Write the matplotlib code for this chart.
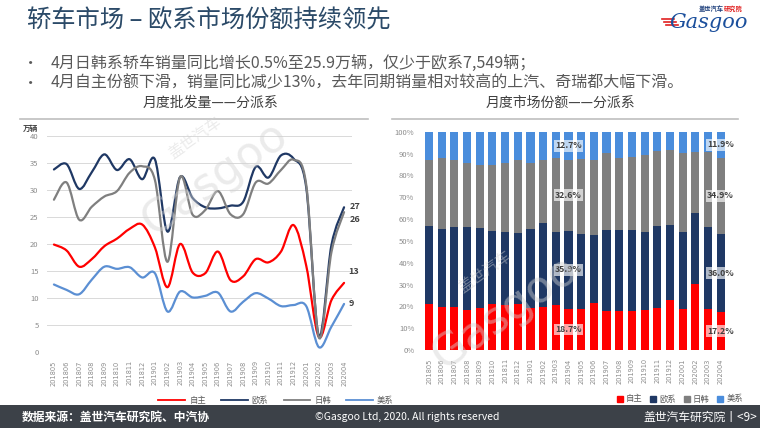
import matplotlib
matplotlib.use('Agg')
import matplotlib.pyplot as plt
from matplotlib.path import Path
from matplotlib.patches import PathPatch, Rectangle, Patch
from matplotlib.lines import Line2D
import numpy as np

plt.rcParams['font.family'] = ['Noto Sans CJK SC', 'DejaVu Sans']

# ---------------- data ----------------
months = ['201805', '201806', '201807', '201808', '201809', '201810', '201811', '201812',
          '201901', '201902', '201903', '201904', '201905', '201906', '201907', '201908',
          '201909', '201910', '201911', '201912', '202001', '202002', '202003', '202004']
series_names = ['自主', '欧系', '日韩', '美系']

# monthly wholesale volume, 10k units
vol_zizhu = [19.9, 18.8, 15.8, 17.2, 19.6, 21.0, 22.8, 23.6, 19.4, 12.0, 20.0, 14.7,
             14.6, 18.6, 13.3, 14.0, 17.2, 16.6, 18.6, 23.5, 16.0, 2.8, 9.6, 12.8]
vol_ouxi = [33.8, 34.8, 30.2, 33.3, 36.6, 33.7, 35.7, 32.0, 35.7, 22.3, 32.4, 28.5,
            26.8, 26.6, 27.1, 27.8, 34.3, 32.3, 36.4, 35.8, 30.5, 3.0, 19.8, 26.8]
vol_rihan = [28.2, 31.4, 24.5, 26.9, 28.8, 29.8, 33.2, 34.4, 31.9, 16.7, 32.4, 25.4,
             26.3, 29.8, 25.5, 25.5, 31.4, 31.2, 33.7, 35.6, 31.0, 2.7, 18.5, 25.9]
vol_meixi = [12.5, 11.5, 10.7, 13.4, 15.8, 15.4, 15.7, 13.8, 14.6, 7.5, 11.2, 10.1,
             10.4, 11.0, 7.5, 9.3, 10.9, 9.9, 8.5, 8.7, 8.5, 0.9, 4.7, 8.9]
end_labels = ['13', '27', '26', '9']

# monthly market share, %
sh_zizhu = [21.1, 19.5, 19.5, 18.3, 19.1, 21.1, 20.6, 20.9, 19.1, 19.5, 20.6, 18.7,
            18.8, 21.7, 17.9, 17.9, 17.9, 18.3, 19.1, 22.9, 18.8, 30.1, 18.8, 17.2]
sh_ouxi = [35.8, 35.9, 37.0, 37.9, 36.6, 33.6, 33.6, 32.5, 36.2, 38.8, 33.6, 35.9,
           34.3, 31.0, 37.1, 37.1, 37.1, 35.9, 37.7, 34.4, 35.4, 32.5, 37.4, 36.0]
sh_rihan = [30.1, 32.4, 30.5, 29.3, 29.0, 30.0, 31.3, 33.6, 30.2, 28.7, 33.6, 32.6,
            34.2, 34.3, 35.4, 32.8, 33.5, 35.1, 34.5, 34.3, 35.9, 27.9, 34.6, 34.9]
sh_meixi = [13.0, 12.2, 13.0, 14.5, 15.3, 15.3, 14.5, 13.0, 14.5, 13.0, 12.2, 12.7,
            12.7, 13.0, 9.6, 12.2, 11.5, 10.7, 8.7, 8.4, 9.9, 9.5, 9.2, 11.9]
labelled_months = ['201904', '202004']

line_colors = ['#FF0000', '#1F3864', '#7F7F7F', '#5B8FD3']
bar_colors = ['#FF0000', '#1F3864', '#7F7F7F', '#4A8DDC']
TXT = '#404040'
TICK = '#8C8C8C'


def smooth_line(ax, xs, ys, color, lw=1.6):
    """Excel-like smoothed line drawn as cubic bezier segments in data coords"""
    n = len(xs)
    verts = [(xs[0], ys[0])]
    codes = [Path.MOVETO]
    for i in range(n - 1):
        a = max(i - 1, 0)
        b = min(i + 2, n - 1)
        c1 = (xs[i] + (xs[i + 1] - xs[a]) / 6, ys[i] + (ys[i + 1] - ys[a]) / 6)
        c2 = (xs[i + 1] - (xs[b] - xs[i]) / 6, ys[i + 1] - (ys[b] - ys[i]) / 6)
        verts += [c1, c2, (xs[i + 1], ys[i + 1])]
        codes += [Path.CURVE4] * 3
    ax.add_patch(PathPatch(Path(verts, codes), facecolor='none', edgecolor=color,
                           lw=lw, capstyle='round', joinstyle='round', zorder=3))


W, H = 760, 428
fig = plt.figure(figsize=(7.6, 4.28), dpi=100)
fig.patch.set_facecolor('white')


def fx(px):
    return px / W


def fy(py):
    return 1 - py / H


# ---------------- header ----------------
fig.text(fx(27), fy(20), '轿车市场 – 欧系市场份额持续领先', fontsize=17.5, color='#2B4A68',
         va='center', ha='left')
bullets = ['4月日韩系轿车销量同比增长0.5%至25.9万辆，仅少于欧系7,549辆；',
           '4月自主份额下滑，销量同比减少13%，去年同期销量相对较高的上汽、奇瑞都大幅下滑。']
for k, b in enumerate(bullets):
    yy = fy(63 + 20 * k)
    fig.text(fx(31), yy, '•', fontsize=11, color='#595959', va='center', ha='center')
    fig.text(fx(51), yy, b, fontsize=11.5, color='#595959', va='center', ha='left')

# logo
fig.text(fx(748), fy(22), 'Gasgoo', fontsize=15, color='#1B4F9C', va='center', ha='right',
         family='DejaVu Serif', style='italic')
fig.text(fx(711), fy(9), '盖世汽车', fontsize=4.5, color='#1B3D7A', va='center', ha='center',
         weight='bold')
fig.text(fx(733), fy(9), '研究院', fontsize=4.5, color='#E02020', va='center', ha='center',
         weight='bold')
for k in range(3):
    fig.add_artist(Line2D([fx(662 + 2 * k), fx(674 + 2 * k)], [fy(19 + 3 * k), fy(19 + 3 * k)],
                          color='#E02020', lw=1.2))

# ---------------- left chart: volumes ----------------
fig.text(fx(210), fy(103), '月度批发量——分派系', fontsize=10, color=TXT, ha='center', va='center')
fig.add_artist(Line2D([fx(20), fx(368)], [fy(119), fy(119)], color='#BFBFBF', lw=1.2))

ax1 = fig.add_axes([fx(47), fy(352), fx(305), 216 / H])
x = np.arange(len(months))
vols = [vol_zizhu, vol_ouxi, vol_rihan, vol_meixi]
for vals, c in zip(vols, line_colors):
    smooth_line(ax1, x, vals, c)
ax1.set_xlim(-0.55, 23.63)
ax1.set_ylim(0, 40)
ax1.set_yticks(np.arange(0, 41, 5))
ax1.grid(axis='y', color='#D9D9D9', lw=0.7)
ax1.set_axisbelow(True)
for s in ax1.spines.values():
    s.set_visible(False)
ax1.tick_params(length=0, labelsize=5.5, labelcolor=TICK, pad=6)
ax1.set_xticks(x)
ax1.set_xticklabels(months, rotation=90, fontsize=4.8, family='DejaVu Sans')
ax1.text(-0.055, 1.035, '万辆', transform=ax1.transAxes, fontsize=5.5, color=TXT,
         weight='bold', ha='center', va='center')

# end value labels (offsets in points, like the dragged labels of the original)
end_offsets = [(3, 8), (4, 0.5), (4, -5), (3, 0.5)]
for vals, lab, (dx, dy) in zip(vols, end_labels, end_offsets):
    ax1.annotate(lab, xy=(x[-1], vals[-1]), xytext=(dx, dy), textcoords='offset points',
                 fontsize=6.5, color=TXT, weight='bold', ha='left', va='center')

leg1 = ax1.legend([Line2D([], [], color=c, lw=1.3) for c in line_colors], series_names,
                  loc='center', bbox_to_anchor=(fx(276), fy(400)), bbox_transform=fig.transFigure,
                  ncol=4, fontsize=6, frameon=False, handlelength=3.2, columnspacing=1.8,
                  handletextpad=0.5)
for t in leg1.get_texts():
    t.set_color('#595959')

# ---------------- right chart: shares ----------------
fig.text(fx(560), fy(103), '月度市场份额——分派系', fontsize=10, color=TXT, ha='center', va='center')
fig.add_artist(Line2D([fx(392), fx(738)], [fy(119), fy(119)], color='#BFBFBF', lw=1.2))

ax2 = fig.add_axes([fx(422.7), fy(350), fx(304.3), 218.3 / H])
shares = [sh_zizhu, sh_ouxi, sh_rihan, sh_meixi]
bottom = np.zeros(len(months))
for vals, c, name in zip(shares, bar_colors, series_names):
    vals = np.array(vals)
    ax2.bar(x, vals, bottom=bottom, width=0.64, color=c, label=name, zorder=2)
    for m in labelled_months:
        i = months.index(m)
        ax2.text(i, bottom[i] + vals[i] / 2, f'{vals[i]:.1f}%', ha='center', va='center',
                 fontsize=6.3, color=TXT, weight='bold', zorder=5,
                 bbox=dict(boxstyle='square,pad=0.15', facecolor='white', alpha=0.65,
                           edgecolor='none'))
    bottom += vals
ax2.set_xlim(-0.5, 23.5)
ax2.set_ylim(0, 100)
ax2.set_yticks(np.arange(0, 101, 10))
ax2.set_yticklabels([f'{v}%' for v in range(0, 101, 10)])
for s in ax2.spines.values():
    s.set_visible(False)
ax2.axhline(0, color='#D9D9D9', lw=0.7, zorder=1)
ax2.tick_params(length=0, labelsize=5.5, labelcolor=TICK, pad=6)
ax2.set_xticks(x)
ax2.set_xticklabels(months, rotation=90, fontsize=4.8, family='DejaVu Sans')

leg2 = ax2.legend([Patch(color=c) for c in bar_colors], series_names, loc='center',
                  bbox_to_anchor=(fx(680), fy(399)), bbox_transform=fig.transFigure,
                  ncol=4, fontsize=6, frameon=False, handlelength=0.7, handleheight=0.7,
                  columnspacing=0.9, handletextpad=0.4)
for t in leg2.get_texts():
    t.set_color('#595959')

# ---------------- watermarks ----------------
for (cx, cy, fs) in [(215, 178, 32), (505, 312, 32)]:
    fig.text(fx(cx), fy(cy), 'Gasgoo', fontsize=fs, color='#D3D3D3', alpha=0.45,
             rotation=35, ha='center', va='center', family='DejaVu Sans', zorder=10)
    fig.text(fx(cx - 20), fy(cy - 40), '盖世汽车', fontsize=11, color='#D3D3D3', alpha=0.45,
             rotation=35, ha='center', va='center', zorder=10)

# ---------------- footer ----------------
fig.add_artist(Rectangle((0, 0), 1, 23 / H, transform=fig.transFigure,
                         facecolor='#3C4148', edgecolor='none', zorder=0))
fig.text(fx(22), fy(417), '数据来源：盖世汽车研究院、中汽协', fontsize=8.5, color='white',
         weight='bold', va='center', ha='left')
fig.text(fx(407), fy(417), '©Gasgoo Ltd, 2020. All rights reserved', fontsize=7.5,
         color='white', va='center', ha='center')
fig.text(fx(757), fy(417), '盖世汽车研究院丨<9>', fontsize=8.5, color='white',
         va='center', ha='right')

fig.savefig('out.png', dpi=100, facecolor='white')
